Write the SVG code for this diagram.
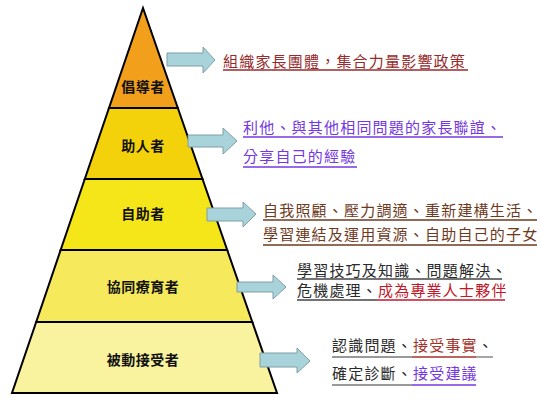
<svg xmlns="http://www.w3.org/2000/svg" width="542" height="404" viewBox="0 0 542 404">
<style>
.band{stroke:#000;stroke-width:2;stroke-linejoin:miter}
.lbl{font-family:"Noto Sans CJK TC","Noto Sans CJK SC",sans-serif;font-size:14px;font-weight:bold;fill:#111;text-anchor:middle;letter-spacing:0.5px}
.arr{fill:#A8D3DA;stroke:#7F9FA6;stroke-width:1}
.t{font-family:"Noto Sans CJK TC","Noto Sans CJK SC",sans-serif;font-size:15px;letter-spacing:1.2px}
.ul{stroke-width:1.3}
</style>
<rect width="542" height="404" fill="#fff"/>
<g id="pyramid">
  <g id="n-advocate">
    <polygon class="band" points="143,8 177.8,108 109,108" fill="#F2A01C"/>
    <text class="lbl" x="143" y="92">倡導者</text>
  </g>
  <g id="n-helper">
    <polygon class="band" points="109,108 177.8,108 202.5,179 84.8,179" fill="#F3D20C"/>
    <text class="lbl" x="143" y="151">助人者</text>
  </g>
  <g id="n-selfhelp">
    <polygon class="band" points="84.8,179 202.5,179 227.2,250 60.65,250" fill="#F5E61A"/>
    <text class="lbl" x="143" y="219">自助者</text>
  </g>
  <g id="n-cotherapy">
    <polygon class="band" points="60.65,250 227.2,250 252.3,322 36.2,322" fill="#F6EA5C"/>
    <text class="lbl" x="143" y="292">協同療育者</text>
  </g>
  <g id="n-passive">
    <polygon class="band" points="36.2,322 252.3,322 277,393 12,393" fill="#F9F29E"/>
    <text class="lbl" x="143" y="365">被動接受者</text>
  </g>
</g>
<g id="connectors">
  <polygon class="arr" points="167,53 203,53 203,47 215,60 203,73 203,66 167,66"/>
  <polygon class="arr" points="188,135 223,135 223,128 237,141 223,154 223,147 188,147"/>
  <polygon class="arr" points="207,208 243,208 243,202 256,214 243,227 243,221 207,221"/>
  <polygon class="arr" points="237,282 273,282 273,275 286,287 273,299 273,292 237,292"/>
  <polygon class="arr" points="260,353 297,353 297,348 310,361 297,373 297,367 260,367"/>
</g>
<g id="texts">
  <g id="t1">
    <text class="t" x="223" y="67" fill="#962B2B">組織家長團體，集合力量影響政策</text>
    <line class="ul" x1="223" y1="70" x2="468" y2="70" stroke="#962B2B"/>
  </g>
  <g id="t2">
    <text class="t" x="243" y="133" fill="#7438E0">利他、與其他相同問題的家長聯誼、</text>
    <line class="ul" x1="243" y1="137" x2="503" y2="137" stroke="#7438E0"/>
    <text class="t" x="243" y="162" fill="#7438E0">分享自己的經驗</text>
    <line class="ul" x1="243" y1="167" x2="357" y2="167" stroke="#7438E0"/>
  </g>
  <g id="t3">
    <text class="t" x="263" y="216" fill="#6E3A1E">自我照顧、壓力調適、重新建構生活、</text>
    <line class="ul" x1="263" y1="220" x2="537" y2="220" stroke="#6E3A1E"/>
    <text class="t" x="263" y="240" fill="#6E3A1E">學習連結及運用資源、自助自己的子女</text>
    <line class="ul" x1="263" y1="245" x2="537" y2="245" stroke="#6E3A1E"/>
  </g>
  <g id="t4">
    <text class="t" x="297" y="276" fill="#2A2A2A">學習技巧及知識、問題解決、</text>
    <line class="ul" x1="297" y1="279" x2="502" y2="279" stroke="#444"/>
    <text class="t" x="297" y="296" fill="#2A2A2A">危機處理、<tspan fill="#C0182A">成為專業人士夥伴</tspan></text>
    <line class="ul" x1="297" y1="300" x2="377" y2="300" stroke="#444"/>
    <line class="ul" x1="377" y1="300" x2="505" y2="300" stroke="#C0182A"/>
  </g>
  <g id="t5">
    <text class="t" x="332" y="351" fill="#2A2A2A">認識問題、<tspan fill="#A3322A">接受事實</tspan>、</text>
    <line class="ul" x1="332" y1="357" x2="412" y2="357" stroke="#777"/>
    <line class="ul" x1="412" y1="357" x2="476" y2="357" stroke="#A3322A"/>
    <line class="ul" x1="476" y1="357" x2="493" y2="357" stroke="#777"/>
    <text class="t" x="332" y="379" fill="#2A2A2A">確定診斷、<tspan fill="#7438E0">接受建議</tspan></text>
    <line class="ul" x1="332" y1="385" x2="412" y2="385" stroke="#777"/>
    <line class="ul" x1="412" y1="385" x2="476" y2="385" stroke="#7438E0"/>
  </g>
</g>
</svg>
